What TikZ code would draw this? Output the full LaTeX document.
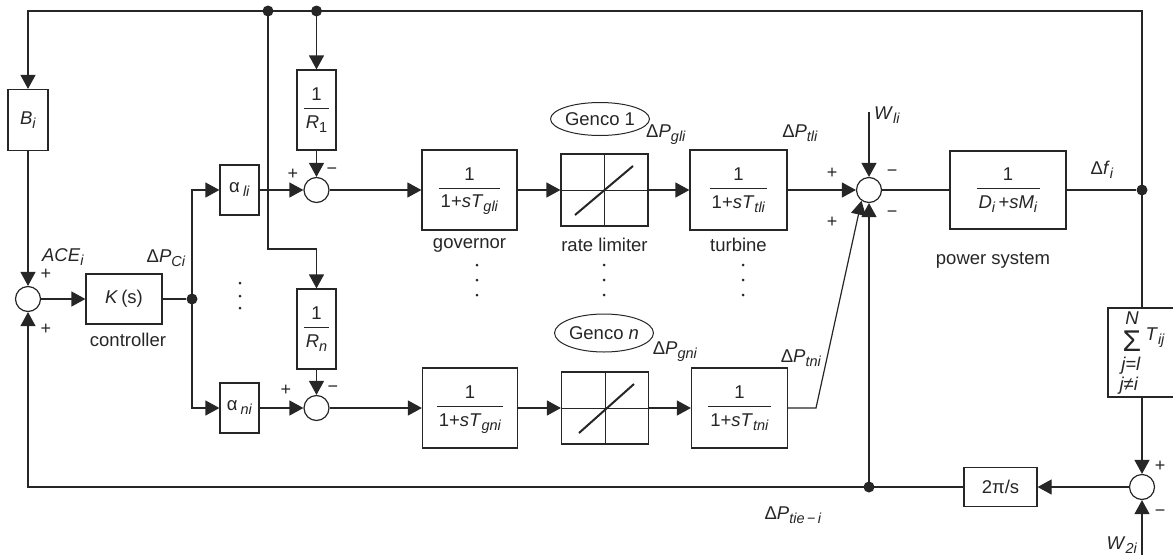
\documentclass[tikz,border=0pt]{standalone}
\usepackage{fontspec}
\setmainfont{Liberation Sans}
\usetikzlibrary{arrows.meta}
\usetikzlibrary{positioning}
\usetikzlibrary{shapes.geometric}

\newcommand{\frc}[2]{{\setlength{\arrayrulewidth}{1pt}\begin{tabular}{@{\hspace{2pt}}c@{\hspace{2pt}}}#1\\[1pt]\hline\rule{0pt}{19pt}#2\end{tabular}}}
\newcommand{\iv}[2]{\textit{#1}\raisebox{-4pt}{\fontsize{14.5}{15}\selectfont\textit{#2}}}

\begin{document}
\begin{tikzpicture}[x=1pt, y=-1pt, % 1 Pixel = 1pt, y nach unten
  line width=1.2pt, black!85,
  font=\fontsize{18.5}{22}\selectfont,
  blk/.style={draw, inner sep=0pt, fill=white},
  sumc/.style={draw, circle, minimum size=25pt, inner sep=0pt},
  pt/.style={circle, fill, inner sep=0pt, minimum size=11pt},
  lbl/.style={inner sep=0pt},
  sgn/.style={inner sep=0pt, font=\fontsize{18}{18}\selectfont},
  genco/.style={draw, ellipse, line width=1pt, inner sep=0pt},
  arr/.style={-{Triangle[length=14pt,width=15pt]}}]

\useasboundingbox (0,0) rectangle (1173,555);

% Bloecke
\node[blk, minimum width=40pt, minimum height=61pt] (Bi) at (28,120) {\iv{B}{i}};
\node[sumc] (lsum) at (28,299) {};
\node[blk, minimum width=76pt, minimum height=50pt] (K) at (124,299) {\textit{K}\,(s)};
\node[pt] (dc) at (192,299) {};
\node[blk, minimum width=39pt, minimum height=50pt] (al) at (239.5,190) {α\,\iv{}{li}};
\node[blk, minimum width=39pt, minimum height=50pt] (an) at (239.5,408) {α\,\iv{}{ni}};
\node[blk, minimum width=39pt, minimum height=80pt] (R1) at (316.5,110) {\frc{1}{\textit{R}\raisebox{-4pt}{\fontsize{14.5}{15}\selectfont 1}}};
\node[blk, minimum width=39pt, minimum height=80pt] (Rn) at (316.5,329) {\frc{1}{\iv{R}{n}}};
\node[sumc] (s1) at (316.5,190) {};
\node[sumc] (sn) at (316.5,408) {};

\node[blk, minimum width=95pt, minimum height=80pt] (gov1) at (469.5,190) {\frc{1}{1+\iv{sT}{gli}}};
\node[blk, minimum width=95pt, minimum height=80pt] (govn) at (470,408) {\frc{1}{1+\iv{sT}{gni}}};
\node[blk, minimum width=87pt, minimum height=72pt] (rl1) at (604.5,190) {};
\node[blk, minimum width=87pt, minimum height=72pt] (rln) at (605,408) {};
\node[blk, minimum width=97pt, minimum height=80pt] (tur1) at (738.5,190) {\frc{1}{1+\iv{sT}{tli}}};
\node[blk, minimum width=96pt, minimum height=80pt] (turn) at (739.5,408) {\frc{1}{1+\iv{sT}{tni}}};

\node[sumc] (msum) at (869,190) {};
\node[blk, minimum width=116pt, minimum height=78pt] (plant) at (1008,190) {\frc{1}{\iv{D}{i}\,+\iv{sM}{i}}};
\node[pt] (df) at (1142,190) {};
\node[blk, minimum width=68pt, minimum height=89pt] (tsum) at (1142,352.5) {};
\node[sumc] (sumb) at (1142,487) {};
\node[blk, minimum width=73pt, minimum height=39pt] (pi) at (1000.5,487) {2π/s};
\node[pt] (dt) at (869,487) {};
\node[pt] (d1) at (316.5,11) {};
\node[pt] (d2) at (268,11) {};

% Ellipsen
\node[genco, minimum width=87pt, minimum height=33pt] (genco1) at (600,119) {Genco 1};
\node[genco, minimum width=88pt, minimum height=38pt] (genconn) at (604,333) {Genco \textit{n}};

% Hilfspunkte
\coordinate (ftop) at (1142,11);
\coordinate (cRn) at (268,249);
\coordinate (lbot) at (28,487);
\coordinate (ctn) at (816,408);
\coordinate (wl) at (869,112);
\coordinate (w2) at (1142,555);

% Rate limiter innen
\foreach \r in {rl1,rln} {
  \draw[line width=1pt] (\r.north) -- (\r.south);
  \draw[line width=1pt] (\r.west) -- (\r.east);
}
\draw[line width=2pt] (575,215) -- (633,166);
\draw[line width=2pt] (579,433) -- (634,384);

% Verbindungen
\draw (plant) -- (df);
\draw[arr] (df.center) -- (ftop) -| (Bi.north);
\draw (df.center) -- (tsum);
\draw[arr] (tsum) -- (sumb);
\draw[arr] (w2) -- (sumb);
\draw[arr] (sumb) -- (pi);
\draw[arr] (pi.west) -- (lbot) -- (lsum.south);
\draw[arr] (dt.center) -- (msum.south);
\draw[arr] (Bi) -- (lsum);
\draw[arr] (lsum) -- (K);
\draw (K) -- (dc);
\draw[arr] (dc.center) |- (al.west);
\draw[arr] (dc.center) |- (an.west);
\draw[arr] (d1.center) -- (R1.north);
\draw[arr] (R1) -- (s1);
\draw[arr] (d2.center) -- (cRn) -| (Rn.north);
\draw[arr] (Rn) -- (sn);
\draw[arr] (al) -- (s1);
\draw[arr] (an) -- (sn);
\draw[arr] (s1) -- (gov1);
\draw[arr] (sn) -- (govn);
\draw[arr] (gov1) -- (rl1);
\draw[arr] (govn) -- (rln);
\draw[arr] (rl1) -- (tur1);
\draw[arr] (rln) -- (turn);
\draw[arr] (tur1) -- (msum);
\draw[arr] (turn.east) -- (ctn) -- (msum.235);
\draw[arr] (wl) -- (msum);
\draw (msum) -- (plant);

% Summe der Kopplungen
\node[lbl] (tN) at (1132,318) {\textit{N}};
\node[lbl, font=\fontsize{30}{30}\selectfont, text height=18pt, text depth=0pt] (tSig) at (1132,342) {Σ};
\node[lbl, anchor=west] (tT) at (1145,338) {\iv{T}{ij}};
\node[lbl] (tj1) at (1131,366) {\textit{j=l}};
\node[lbl] (tj2) at (1129,386) {\textit{j≠i}};

% Texte
\node[lbl] (lace) at (63,257) {\iv{ACE}{i}};
\node[lbl] (lpc) at (166,258) {Δ\iv{P}{Ci}};
\node[lbl] (lctrl) at (128,340) {controller};
\node[lbl] (lgov) at (469.5,245) {governor};
\node[lbl] (lrl) at (604.5,245) {rate limiter};
\node[lbl] (ltur) at (738.5,245) {turbine};
\node[lbl] (lpgl) at (666,135) {Δ\iv{P}{gli}};
\node[lbl] (lptl) at (800,133) {Δ\iv{P}{tli}};
\node[lbl] (lpgn) at (675,352) {Δ\iv{P}{gni}};
\node[lbl] (lptn) at (801,358) {Δ\iv{P}{tni}};
\node[lbl] (lwl) at (887,115) {\iv{W}{li}};
\node[lbl] (ldf) at (1102,170) {Δ\iv{f}{i}};
\node[lbl] (lps) at (993,260) {power system};
\node[lbl] (ltie) at (793,515) {Δ\iv{P}{tie\,−\,i}};
\node[lbl] (lw2) at (1122,545) {\iv{W}{2i}};

% Vorzeichen
\foreach \x/\y/\s in {46/274/+, 46/329/+, 293/174/+, 332/171/−, 286/390/+, 333/389/−,
  832/173/+, 832/222/+, 892/173/−, 892/214/−, 1160/466/+, 1160/513/−}
  \node[sgn] at (\x,\y) {\s};

% Punkte (vertikale Auslassung)
\foreach \x in {477,604,743}
  \foreach \y in {265,280,295}
    \fill (\x,\y) circle (1.5);
\foreach \y in {283,296,308}
  \fill (240,\y) circle (1.5);

\end{tikzpicture}
\end{document}
